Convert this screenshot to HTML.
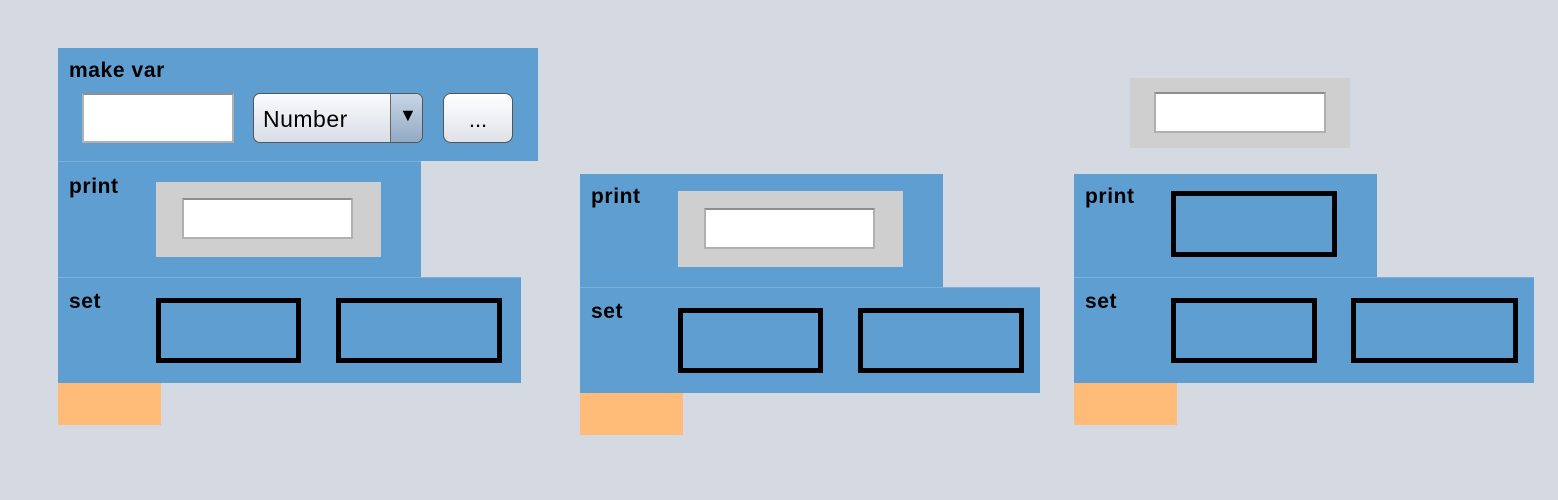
<!DOCTYPE html>
<html><head><meta charset="utf-8"><style>
body{margin:0;width:1558px;height:500px;background:#d5d9e2;position:relative;overflow:hidden;font-family:"Liberation Sans",sans-serif}
div{position:absolute;box-sizing:border-box}
.blk{background:#5f9ed1}
.lbl{font-weight:bold;font-size:21px;letter-spacing:0.6px;color:#000;position:absolute}
.gray{background:#cfcfcf}
.tf{background:#fff;border:2px solid #b0b0b0;border-top-color:#8e8e8e}
.slot{border:5px solid #000}
.or{background:#ffbb77}
</style></head><body>
<!-- group 1 -->
<div class="blk" style="left:58px;top:48px;width:480px;height:113px"></div>
<span class="lbl" style="left:69px;top:59px">make var</span>
<div class="tf" style="left:82px;top:93px;width:152px;height:50px"></div>
<div style="left:253px;top:93px;width:170px;height:50px;border:1px solid #555;border-radius:7px;background:linear-gradient(#fafbfd,#d8dde6);overflow:hidden">
<span style="position:absolute;left:9px;top:12px;font-size:23px;letter-spacing:0.5px">Number</span>
<div style="left:136px;top:0;width:34px;height:48px;background:linear-gradient(#c8d6e6,#93aac4);border-left:1px solid #666"><span style="position:absolute;left:8px;top:11px;font-size:18px">▼</span></div></div>
<div style="left:443px;top:93px;width:70px;height:50px;border:1px solid #555;border-radius:8px;background:linear-gradient(#fff,#dfe2e8);text-align:center;font-size:22px;line-height:52px">...</div>
<div class="blk" style="left:58px;top:161px;width:363px;height:116px;border-top:1px solid #7ab0dc"></div>
<span class="lbl" style="left:69px;top:175px">print</span>
<div class="gray" style="left:156px;top:182px;width:225px;height:75px"></div>
<div class="tf" style="left:182px;top:198px;width:171px;height:41px"></div>
<div class="blk" style="left:58px;top:277px;width:463px;height:106px;border-top:1px solid #7ab0dc"></div>
<span class="lbl" style="left:69px;top:290px">set</span>
<div class="slot" style="left:156px;top:298px;width:145px;height:65px"></div>
<div class="slot" style="left:336px;top:298px;width:166px;height:65px"></div>
<div class="or" style="left:58px;top:383px;width:103px;height:42px"></div>
<!-- group 2 -->
<div class="blk" style="left:580px;top:174px;width:363px;height:113px"></div>
<span class="lbl" style="left:591px;top:185px">print</span>
<div class="gray" style="left:678px;top:191px;width:225px;height:76px"></div>
<div class="tf" style="left:704px;top:208px;width:171px;height:41px"></div>
<div class="blk" style="left:580px;top:287px;width:460px;height:106px;border-top:1px solid #7ab0dc"></div>
<span class="lbl" style="left:591px;top:300px">set</span>
<div class="slot" style="left:678px;top:308px;width:145px;height:65px"></div>
<div class="slot" style="left:858px;top:308px;width:166px;height:65px"></div>
<div class="or" style="left:580px;top:393px;width:103px;height:42px"></div>
<!-- group 3 -->
<div class="gray" style="left:1130px;top:78px;width:220px;height:70px"></div>
<div class="tf" style="left:1154px;top:92px;width:172px;height:41px"></div>
<div class="blk" style="left:1074px;top:174px;width:303px;height:103px"></div>
<span class="lbl" style="left:1085px;top:185px">print</span>
<div class="slot" style="left:1171px;top:191px;width:166px;height:66px"></div>
<div class="blk" style="left:1074px;top:277px;width:460px;height:106px;border-top:1px solid #7ab0dc"></div>
<span class="lbl" style="left:1085px;top:290px">set</span>
<div class="slot" style="left:1171px;top:298px;width:146px;height:65px"></div>
<div class="slot" style="left:1351px;top:298px;width:167px;height:65px"></div>
<div class="or" style="left:1074px;top:383px;width:103px;height:42px"></div>
</body></html>
